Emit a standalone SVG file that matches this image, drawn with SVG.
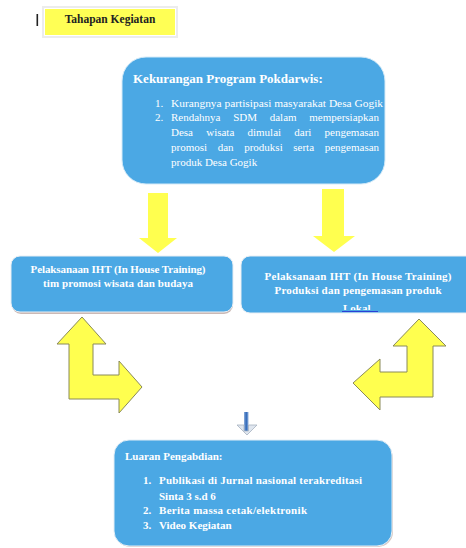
<svg xmlns="http://www.w3.org/2000/svg" width="466" height="548" viewBox="0 0 466 548">
<defs>
<style>
.box{fill:#4BA8E4;}
.t{font-family:"Liberation Serif","Times New Roman",serif;fill:#fff;}
.b{font-weight:bold;}
.arr{fill:#FFFF4F;stroke:#8a8a5a;stroke-width:1;stroke-linejoin:miter;}
.down{fill:#FFFF4F;}
</style>
<linearGradient id="bg" x1="0" y1="0" x2="1" y2="0">
<stop offset="0" stop-color="#8fb0dc"/>
<stop offset="0.5" stop-color="#2f67b8"/>
<stop offset="1" stop-color="#8fb0dc"/>
</linearGradient>
<clipPath id="clipR"><rect x="241" y="256" width="225" height="54"/></clipPath>
</defs>
<rect width="466" height="548" fill="#fff"/>

<g id="title">
<rect x="43" y="7" width="134" height="30" fill="none" stroke="#ececec" stroke-width="2"/>
<rect x="45" y="9" width="130" height="26" fill="#FFFF55"/>
<text x="110" y="23" text-anchor="middle" font-family="Liberation Serif, serif" font-weight="bold" font-size="11.5" fill="#222">Tahapan Kegiatan</text>
<rect x="36.5" y="14" width="1.6" height="12" fill="#222"/>
</g>

<g id="problem">
<rect x="122" y="57" width="263" height="127" rx="24" class="box" stroke="#d6ebf8" stroke-width="1"/>
<text class="t b" x="133" y="83" font-size="13">Kekurangan Program Pokdarwis:</text>
<g class="t" font-size="11">
<text x="155" y="107">1.</text>
<text x="171" y="107" textLength="212" lengthAdjust="spacingAndGlyphs">Kurangnya partisipasi masyarakat Desa Gogik</text>
<text x="155" y="121">2.</text>
<text y="121"><tspan x="171">Rendahnya</tspan><tspan x="233.2">SDM</tspan><tspan x="269.7">dalam</tspan><tspan x="309.3">mempersiapkan</tspan></text>
<text y="136"><tspan x="171">Desa</tspan><tspan x="206.2">wisata</tspan><tspan x="247.5">dimulai</tspan><tspan x="294.3">dari</tspan><tspan x="324.6">pengemasan</tspan></text>
<text y="151"><tspan x="171">promosi</tspan><tspan x="217.7">dan</tspan><tspan x="244.2">produksi</tspan><tspan x="293.3">serta</tspan><tspan x="324.7">pengemasan</tspan></text>
<text x="171" y="166">produk Desa Gogik</text>
</g>
</g>

<g id="iht-promosi">
<rect x="12" y="259" width="221" height="55" rx="9" fill="#cbb9b5"/>
<rect x="11" y="256" width="222" height="56" rx="9" class="box" stroke="#e8eef4" stroke-width="1"/>
<text class="t b" x="118" y="273" font-size="11" text-anchor="middle" textLength="175">Pelaksanaan IHT (In House Training)</text>
<text class="t b" x="118" y="287" font-size="11" text-anchor="middle" textLength="150">tim promosi wisata dan budaya</text>
</g>

<g id="iht-produksi">
<rect x="241" y="256" width="240" height="57" rx="9" class="box" stroke="#e8eef4" stroke-width="1"/>
<g clip-path="url(#clipR)">
<text class="t b" x="358" y="280" font-size="11" text-anchor="middle" textLength="187">Pelaksanaan IHT (In House Training)</text>
<text class="t b" x="358" y="294" font-size="11" text-anchor="middle" textLength="167">Produksi dan pengemasan produk</text>
<text class="t b" x="343" y="312" font-size="11">Lokal</text>
</g>
<line x1="342" y1="311.5" x2="378" y2="311.5" stroke="#2a3fd6" stroke-width="1.2"/>
</g>

<g id="luaran">
<rect x="115" y="443" width="278" height="104" rx="15" fill="#d7c9c4"/>
<rect x="114" y="440" width="278" height="106" rx="15" class="box" stroke="#e3eef6" stroke-width="1"/>
<text class="t b" x="125" y="460" font-size="11">Luaran Pengabdian:</text>
<g class="t b" font-size="11">
<text x="143" y="484">1.</text>
<text x="159" y="484" textLength="203">Publikasi di Jurnal nasional terakreditasi</text>
<text x="159" y="500">Sinta 3 s.d 6</text>
<text x="143" y="514">2.</text>
<text x="159" y="514" textLength="148">Berita massa cetak/elektronik</text>
<text x="143" y="529">3.</text>
<text x="159" y="529">Video Kegiatan</text>
</g>
</g>

<g id="connectors">
<polygon class="down" points="148,193 168,193 168,238 177,238 158,253 139,238 148,238"/>
<polygon class="down" points="322,189 344,189 344,236 355,236 334,252 313,236 322,236"/>
<polygon class="arr" points="82,317 106,344 93,344 93,375 119,375 119,361 142,387 119,413 119,399 69,399 69,344 57,344"/>
<polygon class="arr" points="419,319 446,346 433,346 433,397 380,397 380,410 353,383 380,359 380,372 407,372 407,346 393,346"/>
<rect x="244" y="412" width="4.5" height="19" fill="url(#bg)"/>
<polygon points="237,425 244,425 244,431 248.5,431 248.5,425 257,425 247,435" fill="#dfe6ef" stroke="#a7b2c0" stroke-width="0.8"/>
</g>
</svg>
